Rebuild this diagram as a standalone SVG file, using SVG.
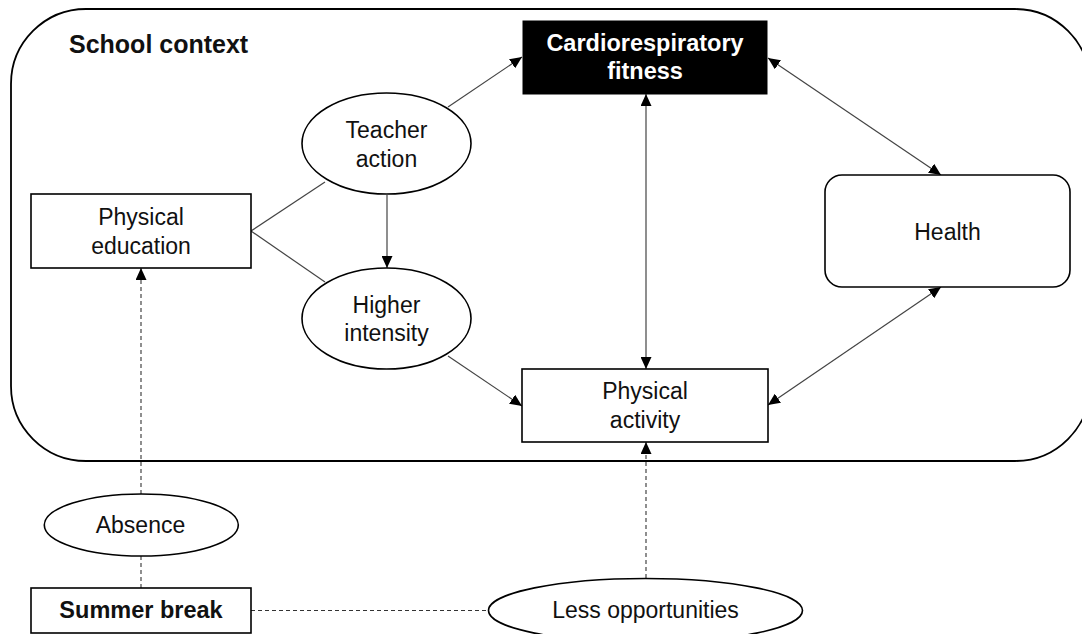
<svg xmlns="http://www.w3.org/2000/svg" width="1082" height="634" viewBox="0 0 1082 634">
<defs>
<style>
.box{fill:#fff;stroke:#000;stroke-width:1.6}
.txt{font-family:"Liberation Sans",Arial,sans-serif;font-size:23px;fill:#111;text-anchor:middle}
.bold{font-weight:bold;font-size:23.5px}
.ln{stroke:#444;stroke-width:1.2;fill:none}
.dash{stroke:#333;stroke-width:1.1;fill:none;stroke-dasharray:4,3}
</style>
<marker id="ah" viewBox="0 0 12 11" refX="12" refY="5.5" markerWidth="12" markerHeight="11" markerUnits="userSpaceOnUse" orient="auto-start-reverse">
<path d="M0,0 L12,5.5 L0,11 Z" fill="#000"/>
</marker>
</defs>
<rect width="1082" height="634" fill="#fff"/>
<g id="school-context">
<rect x="11" y="9" width="1079" height="452" rx="75" ry="75" fill="none" stroke="#000" stroke-width="1.8"/>
<text class="txt bold" x="69" y="53" style="text-anchor:start;font-size:25px">School context</text>
</g>
<g id="connectors">
<line class="ln" x1="448" y1="107" x2="522" y2="57" marker-end="url(#ah)"/>
<line class="ln" x1="251" y1="231" x2="325" y2="182"/>
<line class="ln" x1="251" y1="231" x2="325" y2="282"/>
<line class="ln" x1="387" y1="195" x2="387" y2="268" marker-end="url(#ah)"/>
<line class="ln" x1="448" y1="356" x2="522" y2="406" marker-end="url(#ah)"/>
<line class="ln" x1="646" y1="94" x2="646" y2="369" marker-start="url(#ah)" marker-end="url(#ah)"/>
<line class="ln" x1="768" y1="58" x2="941" y2="175" marker-start="url(#ah)" marker-end="url(#ah)"/>
<line class="ln" x1="768" y1="405" x2="941" y2="287" marker-start="url(#ah)" marker-end="url(#ah)"/>
<line class="dash" x1="141" y1="494" x2="141" y2="268" marker-end="url(#ah)"/>
<line class="dash" x1="141" y1="556" x2="141" y2="588"/>
<line class="dash" x1="251" y1="610.5" x2="488" y2="610.5"/>
<line class="dash" x1="646" y1="578" x2="646" y2="442" marker-end="url(#ah)"/>
</g>
<g id="crf">
<rect x="523" y="21" width="244" height="73" fill="#000" stroke="#000"/>
<text class="txt bold" x="645" y="51" style="fill:#fff">Cardiorespiratory</text>
<text class="txt bold" x="645" y="79" style="fill:#fff">fitness</text>
</g>
<g id="teacher-action">
<ellipse class="box" cx="386.5" cy="143.5" rx="84.5" ry="50.5"/>
<text class="txt" x="386.5" y="138">Teacher</text>
<text class="txt" x="386.5" y="166.5">action</text>
</g>
<g id="physical-education">
<rect class="box" x="31" y="194" width="220" height="74"/>
<text class="txt" x="141" y="225">Physical</text>
<text class="txt" x="141" y="254">education</text>
</g>
<g id="higher-intensity">
<ellipse class="box" cx="386.5" cy="318.5" rx="84.5" ry="50.5"/>
<text class="txt" x="386.5" y="313">Higher</text>
<text class="txt" x="386.5" y="341">intensity</text>
</g>
<g id="health">
<rect class="box" x="825" y="175" width="245" height="112" rx="17" ry="17"/>
<text class="txt" x="947.5" y="240">Health</text>
</g>
<g id="physical-activity">
<rect class="box" x="522" y="369" width="246" height="73"/>
<text class="txt" x="645" y="399">Physical</text>
<text class="txt" x="645" y="428">activity</text>
</g>
<g id="absence">
<ellipse class="box" cx="141.3" cy="525" rx="97" ry="31"/>
<text class="txt" x="140.5" y="533">Absence</text>
</g>
<g id="summer-break">
<rect class="box" x="31" y="588" width="220" height="45"/>
<text class="txt bold" x="141" y="618">Summer break</text>
</g>
<g id="less-opportunities">
<ellipse class="box" cx="645.5" cy="610.5" rx="157" ry="32"/>
<text class="txt" x="645.5" y="618">Less opportunities</text>
</g>
</svg>
